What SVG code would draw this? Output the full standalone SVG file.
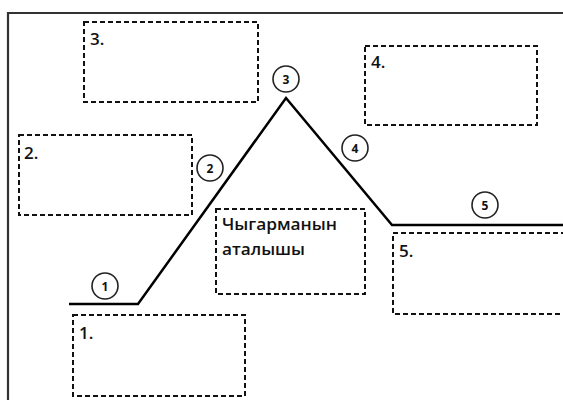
<svg xmlns="http://www.w3.org/2000/svg" width="563" height="400" viewBox="0 0 563 400">
<style>
.box{fill:none;stroke:#111;stroke-width:2;stroke-dasharray:5 3}
.lbl{font-family:"Open Sans","Liberation Sans",sans-serif;font-size:17px;font-weight:600;fill:#111}
.ttl{font-family:"Open Sans","Liberation Sans",sans-serif;font-size:17px;font-weight:600;fill:#111}
.cir{fill:#fff;stroke:#222;stroke-width:1.6}
.num{font-family:"Open Sans","Liberation Sans",sans-serif;font-size:12px;font-weight:700;fill:#111;text-anchor:middle}
</style>
<rect width="563" height="400" fill="#fff"/>
<path d="M8 400 V13 H563" fill="none" stroke="#333" stroke-width="2.2"/>
<g id="connectors">
<polyline points="69,304 138,304 286,98 392,225 563,225" fill="none" stroke="#000" stroke-width="2.5" stroke-linejoin="miter"/>
</g>
<g id="box3"><rect class="box" x="84" y="22" width="174" height="80"/><text class="lbl" x="90" y="45">3.</text></g>
<g id="box4"><rect class="box" x="365" y="46" width="172" height="79"/><text class="lbl" x="371" y="68">4.</text></g>
<g id="box2"><rect class="box" x="19" y="135" width="173" height="80"/><text class="lbl" x="24" y="159">2.</text></g>
<g id="title"><rect class="box" x="216" y="209" width="149" height="85"/><text class="ttl" x="222" y="230" textLength="115" lengthAdjust="spacingAndGlyphs">Чыгарманын</text><text class="ttl" x="222" y="255" textLength="83" lengthAdjust="spacingAndGlyphs">аталышы</text></g>
<g id="box5"><rect class="box" x="393" y="233" width="175" height="81"/><text class="lbl" x="399" y="257">5.</text></g>
<g id="box1"><rect class="box" x="73" y="315" width="172" height="81"/><text class="lbl" x="79" y="339">1.</text></g>
<g id="c1"><circle class="cir" cx="105" cy="286" r="13"/><text class="num" x="105" y="290.5">1</text></g>
<g id="c2"><circle class="cir" cx="210" cy="168" r="13"/><text class="num" x="210" y="172.5">2</text></g>
<g id="c3"><circle class="cir" cx="286" cy="79" r="13"/><text class="num" x="286" y="83.5">3</text></g>
<g id="c4"><circle class="cir" cx="355" cy="148" r="13"/><text class="num" x="355" y="152.5">4</text></g>
<g id="c5"><circle class="cir" cx="485" cy="205" r="13"/><text class="num" x="485" y="209.5">5</text></g>
</svg>
